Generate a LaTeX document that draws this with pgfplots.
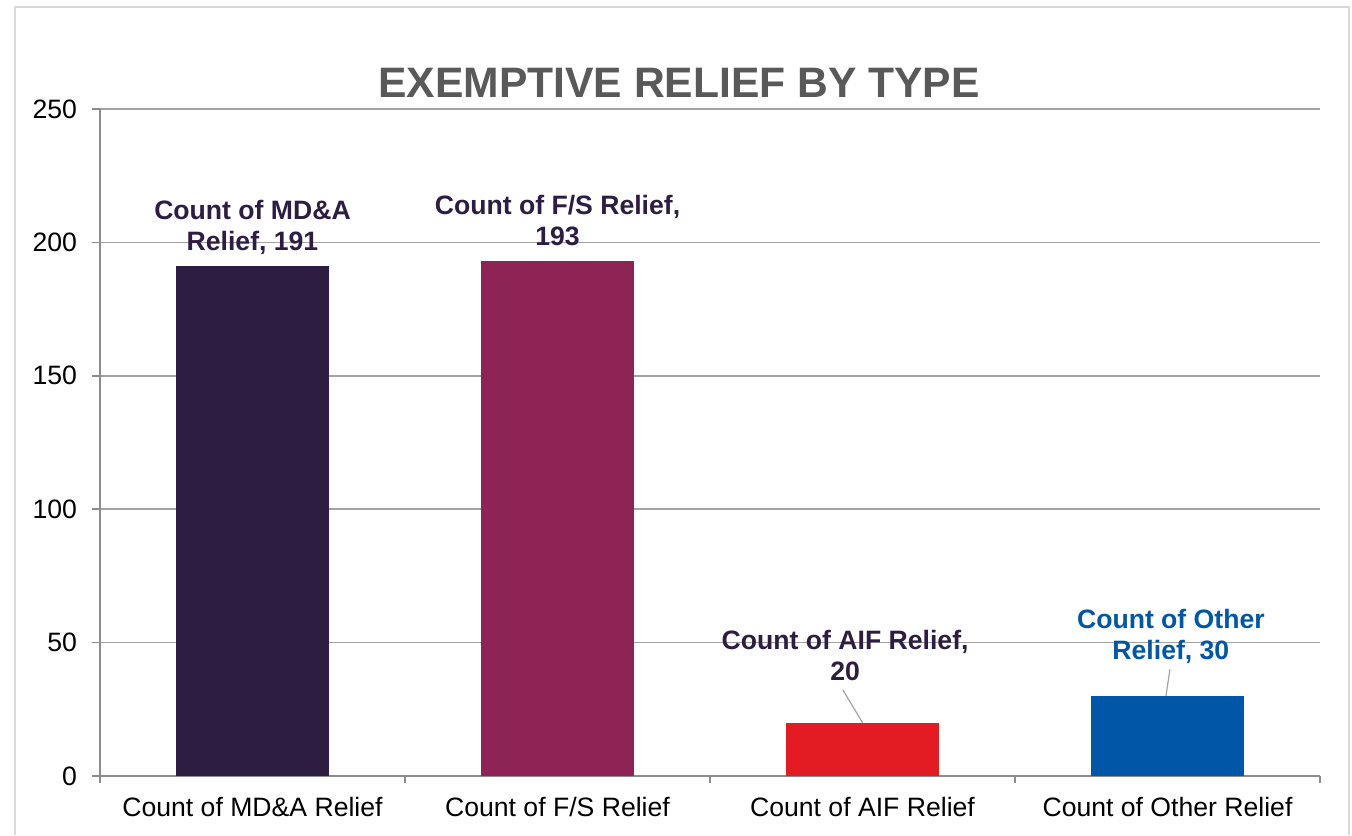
\documentclass[border=0pt]{standalone}
\usepackage{fontspec}
\setmainfont{Liberation Sans}
\usepackage{pgfplots}
\pgfplotsset{compat=1.18}
\definecolor{cMDA}{HTML}{2D1D42}
\definecolor{cFS}{HTML}{8E2456}
\definecolor{cAIF}{HTML}{E31C23}
\definecolor{cOther}{HTML}{0057A7}
\definecolor{gridc}{HTML}{A3A3A3}
\definecolor{axisc}{HTML}{8C8C8C}
\definecolor{titlec}{HTML}{595959}
\definecolor{framec}{HTML}{D9D9D9}
\begin{document}
\begin{tikzpicture}
\path[use as bounding box, fill=white] (0,0) rectangle (676pt,-417.5pt);
\draw[framec, line width=1.2pt] (7.5pt,-417.5pt) -- (7.5pt,-3.5pt) -- (674.5pt,-3.5pt) -- (674.5pt,-417.5pt);
\begin{axis}[
  at={(50pt,-388pt)}, anchor=south west,
  scale only axis, width=610pt, height=333.5pt,
  xmin=-0.5, xmax=3.5, ymin=0, ymax=250,
  ytick={0,50,100,150,200,250},
  xtick={0,1,2,3},
  xticklabels={Count of MD\&A Relief, Count of F/S Relief, Count of AIF Relief, Count of Other Relief},
  extra x ticks={-0.5,0.5,1.5,2.5,3.5},
  extra x tick labels={},
  extra x tick style={xtick style={draw=axisc, line width=0.8pt}, major tick length=3.5pt},
  xtick style={draw=none},
  ytick style={draw=axisc, line width=0.8pt},
  tick align=outside, major tick length=4pt,
  axis x line*=bottom, axis y line*=left,
  axis line style={axisc, line width=1pt, -},
  ymajorgrids, grid style={gridc, line width=0.8pt},
  tick label style={font=\fontsize{13.3}{16}\selectfont, text=black},
  yticklabel style={xshift=-4pt},
  xticklabel style={yshift=-3pt},
  /pgf/number format/assume math mode=true,
  clip=false,
]
\addplot[ybar, bar shift=0pt, bar width=76.5pt, fill=cMDA, draw=none] coordinates {(0,191)};
\addplot[ybar, bar shift=0pt, bar width=76.5pt, fill=cFS, draw=none] coordinates {(1,193)};
\addplot[ybar, bar shift=0pt, bar width=76.5pt, fill=cAIF, draw=none] coordinates {(2,20)};
\addplot[ybar, bar shift=0pt, bar width=76.5pt, fill=cOther, draw=none] coordinates {(3,30)};
\tikzset{lbl/.style={font=\bfseries\fontsize{13.3}{15.5}\selectfont, align=center, inner sep=0pt}}
\draw[gridc, line width=0.6pt] (axis cs:1.936,32.2) -- (axis cs:2.0,20);
\draw[gridc, line width=0.6pt] (axis cs:3.008,40) -- (axis cs:2.995,30);
\node[lbl, text=cMDA] at (axis cs:0,205.8) {Count of MD\&A\\Relief, 191};
\node[lbl, text=cMDA] at (axis cs:1,208.2) {Count of F/S Relief,\\193};
\node[lbl, text=cMDA] at (axis cs:1.943,45.0) {Count of AIF Relief,\\20};
\node[lbl, text=cOther] at (axis cs:3.011,52.3) {Count of Other\\Relief, 30};
\end{axis}
\node[font=\bfseries\fontsize{21.3}{25}\selectfont, text=titlec, inner sep=0pt] at (339.5pt,-41.5pt) {EXEMPTIVE RELIEF BY TYPE};
\end{tikzpicture}
\end{document}
